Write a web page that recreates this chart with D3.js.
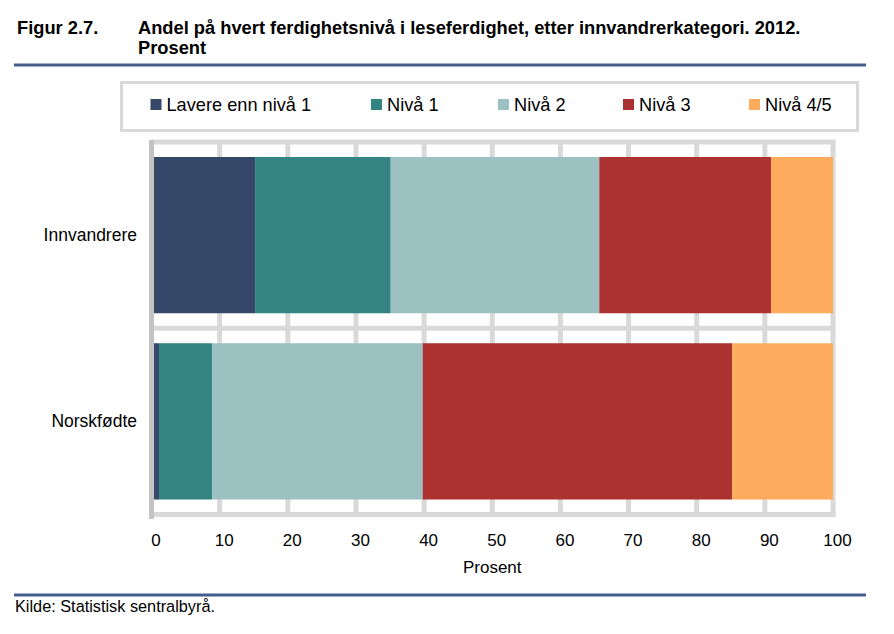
<!DOCTYPE html>
<html>
<head>
<meta charset="utf-8">
<script src="https://cdn.jsdelivr.net/npm/d3@7"></script>
<style>
  html, body { margin: 0; padding: 0; background: #fff; }
  svg { display: block; font-family: "Liberation Sans", Arial, sans-serif; }
</style>
</head>
<body>
<svg id="chart" width="894" height="634"></svg>
<script>
// ---- data ----
const categories = ["Innvandrere", "Norskfødte"];
const seriesNames = ["Lavere enn nivå 1", "Nivå 1", "Nivå 2", "Nivå 3", "Nivå 4/5"];
const lavereEnnNiva1 = [15.2, 1.1];
const niva1 = [19.9, 7.8];
const niva2 = [30.6, 30.9];
const niva3 = [25.2, 45.4];
const niva45 = [9.1, 14.8];
const xTickValues = [0, 10, 20, 30, 40, 50, 60, 70, 80, 90, 100];
const colors = ["#35486a", "#348482", "#9bc1c1", "#ac3232", "#feab5e"];

const seriesValues = [lavereEnnNiva1, niva1, niva2, niva3, niva45];
const rows = categories.map((c, i) => {
  const r = { category: c };
  seriesNames.forEach((s, j) => { r[s] = seriesValues[j][i]; });
  return r;
});

const svg = d3.select("#chart");
const ruleColor = "#435d8c";
const gridColor = "#d9d9d9";

// title
const titleSize = 18.3;
svg.append("text").attr("x", 17).attr("y", 34)
  .attr("font-size", titleSize).attr("font-weight", "bold").attr("fill", "#000")
  .text("Figur 2.7.");
svg.append("text").attr("x", 138).attr("y", 34)
  .attr("font-size", titleSize).attr("font-weight", "bold").attr("fill", "#000")
  .text("Andel på hvert ferdighetsnivå i leseferdighet, etter innvandrerkategori. 2012.");
svg.append("text").attr("x", 138).attr("y", 54)
  .attr("font-size", titleSize).attr("font-weight", "bold").attr("fill", "#000")
  .text("Prosent");
svg.append("rect").attr("x", 14).attr("y", 63.5).attr("width", 852).attr("height", 3).attr("fill", ruleColor);

// legend
svg.append("rect").attr("x", 121.5).attr("y", 82.5).attr("width", 736).attr("height", 48)
  .attr("fill", "#fff").attr("stroke", gridColor).attr("stroke-width", 3);
const legendX = [150.5, 371, 498, 623, 749];
const lg = svg.append("g").selectAll("g").data(seriesNames).join("g")
  .attr("transform", (d, i) => `translate(${legendX[i]},0)`);
lg.append("rect").attr("x", 0).attr("y", 99).attr("width", 11).attr("height", 11)
  .attr("fill", (d, i) => colors[i]);
lg.append("text").attr("x", 16).attr("y", 111).attr("font-size", 18.2).attr("fill", "#000")
  .text(d => d);

// scales
const x = d3.scaleLinear().domain([0, 100]).range([151.5, 833]);
const y = d3.scaleBand().domain(categories).range([142, 514.5])
  .paddingInner(0.161).paddingOuter(0.0805);

// grid
const g = svg.append("g");
g.selectAll("line.v").data(xTickValues.slice(1)).join("line")
  .attr("x1", d => x(d)).attr("x2", d => x(d))
  .attr("y1", 140).attr("y2", 517)
  .attr("stroke", gridColor).attr("stroke-width", 5);
const hLines = [142, y(categories[1]) - y.step() * y.paddingInner() / 2, 514.5];
g.selectAll("line.h").data(hLines).join("line")
  .attr("x1", 151.5).attr("x2", 835.5)
  .attr("y1", d => d).attr("y2", d => d)
  .attr("stroke", gridColor).attr("stroke-width", 5);

// bars
const stack = d3.stack().keys(seriesNames);
const stacked = stack(rows);
svg.append("g").selectAll("g").data(stacked).join("g")
  .attr("fill", (d, i) => colors[i])
  .selectAll("rect").data(d => d).join("rect")
  .attr("x", d => x(d[0]))
  .attr("width", d => x(d[1]) - x(d[0]))
  .attr("y", d => y(d.data.category))
  .attr("height", y.bandwidth());

// left axis line
svg.append("line").attr("x1", 151.5).attr("x2", 151.5).attr("y1", 140).attr("y2", 519)
  .attr("stroke", "#c3c3c3").attr("stroke-width", 5);

// category labels
svg.append("g").selectAll("text").data(categories).join("text")
  .attr("x", 137).attr("y", d => y(d) + y.bandwidth() / 2 + 6)
  .attr("text-anchor", "end").attr("font-size", 17.5).attr("fill", "#000")
  .text(d => d);

// x axis
const xAxis = d3.axisBottom(x).tickValues(xTickValues).tickSize(0).tickPadding(0);
const ax = svg.append("g").attr("transform", "translate(4,534)").call(xAxis);
ax.select(".domain").remove();
ax.selectAll("text").attr("font-size", 17).attr("fill", "#000")
  .attr("font-family", "Liberation Sans, Arial, sans-serif");

svg.append("text").attr("x", x(50)).attr("y", 573).attr("text-anchor", "middle")
  .attr("font-size", 17).attr("fill", "#000").text("Prosent");

// source
svg.append("rect").attr("x", 14).attr("y", 593.5).attr("width", 852).attr("height", 3).attr("fill", ruleColor);
svg.append("text").attr("x", 15).attr("y", 612).attr("font-size", 16.3).attr("fill", "#000")
  .text("Kilde: Statistisk sentralbyrå.");
</script>
</body>
</html>
